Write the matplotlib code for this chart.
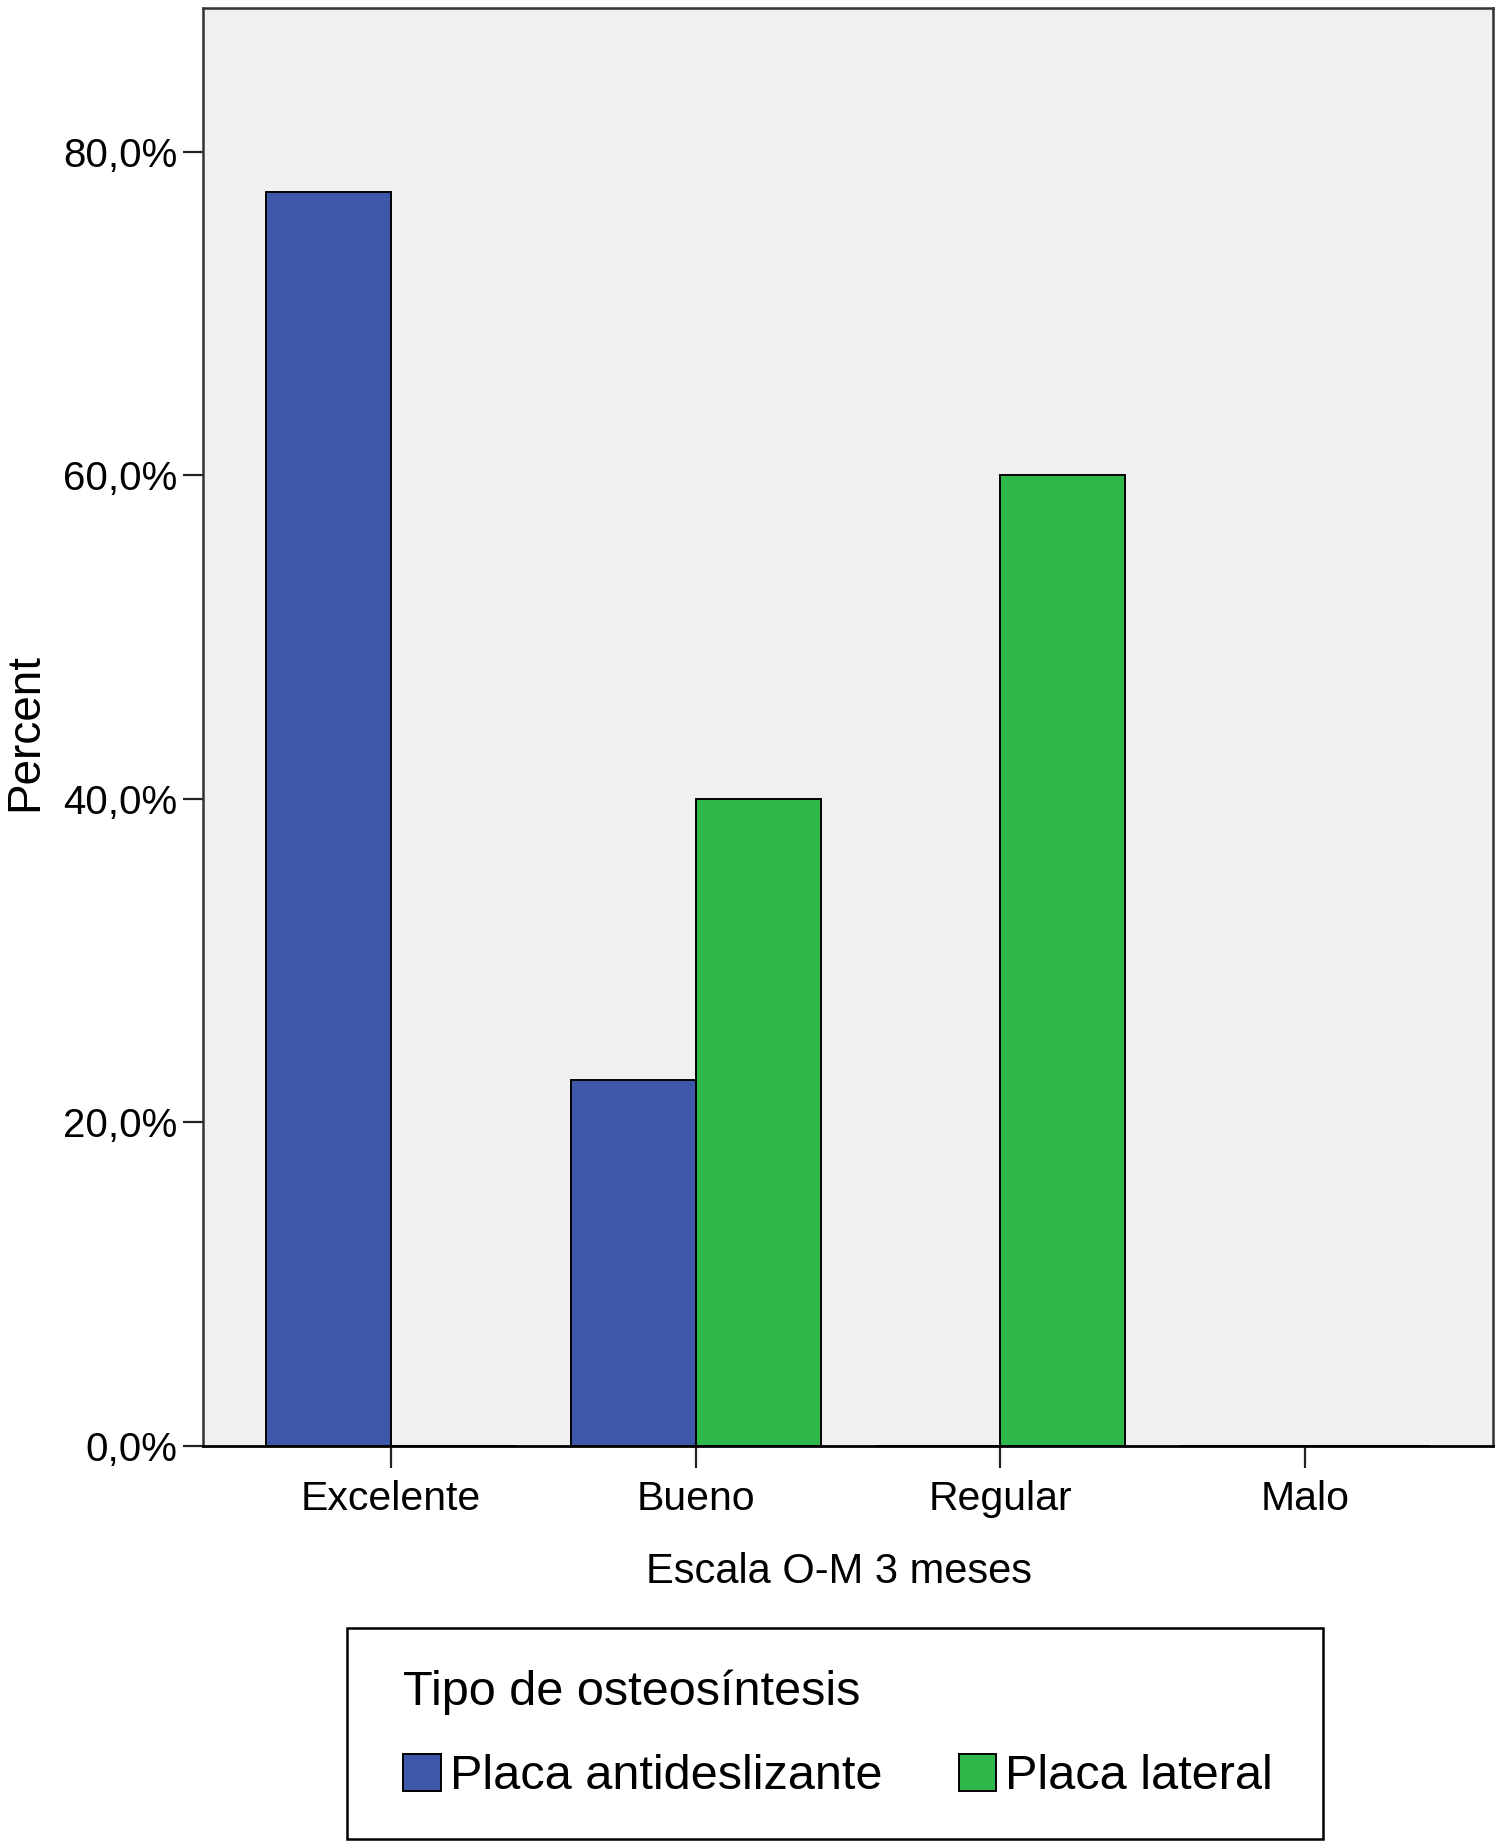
import matplotlib

matplotlib.use("Agg")
import matplotlib.pyplot as plt
import numpy as np
from matplotlib.patches import Rectangle
from matplotlib.ticker import FuncFormatter

plt.rcParams["font.family"] = ["Liberation Sans", "DejaVu Sans"]

categories = ["Excelente", "Bueno", "Regular", "Malo"]
series_names = ["Placa antideslizante", "Placa lateral"]
antideslizante = [77.5, 22.6, 0.0, 0.0]
lateral = [0.0, 40.0, 60.0, 0.0]
yticks = [0, 20, 40, 60, 80]

BLUE = "#3d58a9"
GREEN = "#2fb84a"
W, H = 1498, 1843

fig = plt.figure(figsize=(W / 100, H / 100), dpi=100)
ax = fig.add_axes([0.1355, 0.2154, 0.8611, 0.7803])
ax.set_facecolor("#f0f0f0")

x = np.arange(len(categories))
w = 0.41
b1 = ax.bar(x - w / 2, antideslizante, w, color=BLUE, edgecolor="black", linewidth=1.4, label=series_names[0])
b2 = ax.bar(x + w / 2, lateral, w, color=GREEN, edgecolor="black", linewidth=1.4, label=series_names[1])

ax.set_xlim(-0.617, 3.617)
ax.set_ylim(0, 88.9)
ax.set_xticks(x)
ax.set_xticklabels(categories, fontsize=29.5)
ax.set_yticks(yticks)
ax.yaxis.set_major_formatter(FuncFormatter(lambda v, p: f"{v:.1f}%".replace(".", ",")))
ax.tick_params(axis="y", length=14.4, width=1.6, pad=4, labelsize=29, color="#222222")
ax.tick_params(axis="x", length=16, width=1.6, pad=8.5, color="#222222")

for s in ["left", "top", "right"]:
    ax.spines[s].set_linewidth(1.8)
    ax.spines[s].set_color("#333333")
ax.spines["bottom"].set_linewidth(2.0)
ax.spines["bottom"].set_color("black")

ax.set_xlabel("Escala O-M 3 meses", fontsize=30)
ax.xaxis.set_label_coords(0.493, -0.0736)
ax.set_ylabel("Percent", fontsize=33)
ax.yaxis.set_label_coords(-0.1207, 0.4965)

# legend frame drawn separately so the padding can differ per side
fig.patches.append(Rectangle((347 / W, 4 / H), (1323 - 347) / W, 211 / H,
                             transform=fig.transFigure, fill=False,
                             edgecolor="black", linewidth=1.8))

leg = fig.legend(
    handles=[b1, b2],
    labels=series_names,
    loc="lower left",
    bbox_to_anchor=(403 / W, 44 / H, (1273 - 403) / W, 0.1),
    mode="expand",
    ncol=2,
    fontsize=35,
    title="Tipo de osteosíntesis",
    title_fontsize=35,
    alignment="left",
    frameon=False,
    handlelength=0.78,
    handleheight=0.8,
    handletextpad=0.18,
    borderpad=0,
    borderaxespad=0,
    labelspacing=0.8,
)
for h in leg.legend_handles:
    h.set_edgecolor("black")
    h.set_linewidth(1.4)

fig.savefig("out.png", dpi=100)
